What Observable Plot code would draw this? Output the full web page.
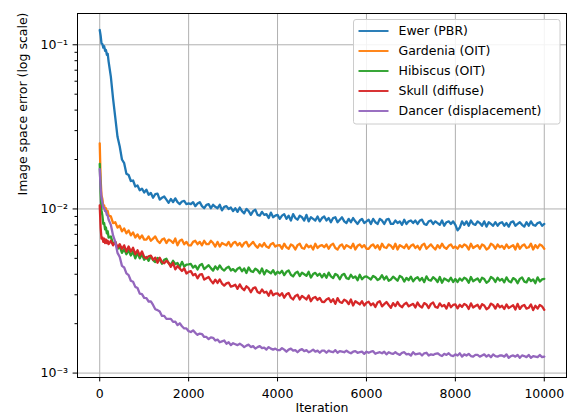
<!DOCTYPE html>
<html><head><meta charset="utf-8">
<script src="https://cdn.jsdelivr.net/npm/d3@7"></script>
<script src="https://cdn.jsdelivr.net/npm/@observablehq/plot@0.6"></script>
<style>body{margin:0;background:#fff} svg{display:block}</style>
</head><body><div id="chart"></div>
<script>
const seriesNames = ["Ewer (PBR)", "Gardenia (OIT)", "Hibiscus (OIT)", "Skull (diffuse)", "Dancer (displacement)"];
const seriesColors = ["#1f77b4", "#ff7f0e", "#2ca02c", "#d62728", "#9467bd"];
const xTicks = [0, 2000, 4000, 6000, 8000, 10000];
const yMajorTicks = [0.001, 0.01, 0.1];
const yMinorTicks = [0.002,0.003,0.004,0.005,0.006,0.007,0.008,0.009,0.02,0.03,0.04,0.05,0.06,0.07,0.08,0.09];
const yTickLabels = ["10\u207B\u00B3", "10\u207B\u00B2", "10\u207B\u00B9"];

const iterations = [0,20,40,60,80,100,120,140,160,180,200,250,300,350,400,450,500,550,600,650,700,750,800,850,900,950,1000,
1050,1100,1150,1200,1250,1300,1350,1400,1450,1500,1550,1600,1650,1700,1750,1800,1850,1900,1950,2000,
2050,2100,2150,2200,2250,2300,2350,2400,2450,2500,2550,2600,2650,2700,2750,2800,2850,2900,2950,3000,
3050,3100,3150,3200,3250,3300,3350,3400,3450,3500,3550,3600,3650,3700,3750,3800,3850,3900,3950,4000,
4050,4100,4150,4200,4250,4300,4350,4400,4450,4500,4550,4600,4650,4700,4750,4800,4850,4900,4950,5000,
5050,5100,5150,5200,5250,5300,5350,5400,5450,5500,5550,5600,5650,5700,5750,5800,5850,5900,5950,6000,
6050,6100,6150,6200,6250,6300,6350,6400,6450,6500,6550,6600,6650,6700,6750,6800,6850,6900,6950,7000,
7050,7100,7150,7200,7250,7300,7350,7400,7450,7500,7550,7600,7650,7700,7750,7800,7850,7900,7950,8000,
8050,8100,8150,8200,8250,8300,8350,8400,8450,8500,8550,8600,8650,8700,8750,8800,8850,8900,8950,9000,
9050,9100,9150,9200,9250,9300,9350,9400,9450,9500,9550,9600,9650,9700,9750,9800,9850,9900,9950,10000];

const ewer = [.123,.114,.102,.101,.096,.098,.092,.093,.087,.088,.079,.064,.047,.036,.0275,.0240,.0200,.0190,.0164,.0161,.0148,.0149,.0137,.0139,.0130,.0133,.0126,
.0131,.0122,.0125,.0117,.0123,.0124,.0114,.0117,.0119,.0114,.0109,.0115,.0110,.0116,.0110,.0107,.0111,.0112,.0107,.0108,
.0107,.0110,.0104,.0108,.0110,.0104,.0101,.0106,.0107,.0101,.0106,.0103,.0101,.0106,.0098,.0103,.0104,.0100,.0102,.0097,
.0101,.0096,.0102,.0097,.0094,.0100,.0097,.0092,.0097,.0099,.0092,.0091,.0096,.0092,.0093,.0088,.0095,.0089,.0091,.0092,
.0087,.0091,.0093,.0087,.0091,.0085,.0093,.0088,.0086,.0091,.0089,.0085,.0092,.0084,.0089,.0087,.0085,.0090,.0084,.0088,
.0090,.0085,.0088,.0083,.0088,.0089,.0083,.0086,.0089,.0084,.0082,.0087,.0083,.0088,.0084,.0081,.0085,.0087,.0082,.0084,
.0086,.0081,.0087,.0083,.0081,.0087,.0085,.0081,.0086,.0087,.0081,.0081,.0085,.0082,.0084,.0080,.0086,.0081,.0084,.0085,
.0082,.0085,.0081,.0085,.0086,.0081,.0080,.0084,.0085,.0081,.0084,.0082,.0080,.0085,.0079,.0083,.0084,.0081,.0084,.0080,
.0074,.0077,.0084,.0080,.0084,.0079,.0085,.0081,.0080,.0084,.0082,.0079,.0084,.0078,.0083,.0081,.0079,.0083,.0079,.0082,
.0083,.0079,.0082,.0078,.0083,.0084,.0079,.0081,.0083,.0080,.0078,.0083,.0079,.0084,.0080,.0079,.0082,.0083,.0079,.0081];

const gardenia = [.0251,.0152,.0121,.0115,.0104,.0105,.0098,.0101,.0095,.0097,.0091,.0090,.0082,.0083,.0077,.0079,.0073,.0076,.0071,.0074,.0069,.0072,.0067,.0070,.0066,.0069,.0065,
.0065,.0068,.0064,.0066,.0068,.0064,.0062,.0065,.0066,.0062,.0065,.0064,.0062,.0066,.0060,.0064,.0065,.0061,.0063,.0060,
.0060,.0063,.0064,.0061,.0063,.0060,.0064,.0061,.0061,.0064,.0062,.0059,.0063,.0059,.0062,.0061,.0060,.0063,.0059,.0062,
.0063,.0060,.0062,.0059,.0062,.0063,.0059,.0061,.0063,.0060,.0058,.0061,.0059,.0062,.0059,.0058,.0061,.0062,.0059,.0060,
.00602,.00572,.00614,.00584,.00572,.00608,.00596,.00566,.00602,.00614,.00578,.00572,.00608,.00584,.00596,.00566,.00614,.00578,.00596,.00602,
.00584,.00608,.00572,.00602,.00614,.00578,.00566,.00596,.00608,.00572,.00602,.0059,.00578,.00614,.00566,.00596,.00608,.00584,.00602,.00572,
.00572,.00596,.00608,.00578,.00602,.00566,.00614,.00584,.00578,.00608,.00596,.00572,.00614,.00566,.00602,.0059,.00578,.00608,.00572,.00596,
.00608,.00578,.00596,.00566,.00602,.00614,.00572,.0059,.00608,.00584,.00566,.00602,.00578,.00614,.00584,.00572,.00596,.00608,.00578,.0059,
.00572,.00602,.00584,.00608,.00596,.00566,.00614,.00578,.0059,.00602,.00572,.00608,.00596,.00566,.00578,.00614,.00602,.00572,.00608,.00584,
.00596,.00572,.00608,.00578,.0059,.00602,.00566,.00614,.00572,.00596,.00608,.00578,.00584,.00614,.00566,.00602,.00578,.00608,.00596,.00572];

const hibiscus = [.0188,.0126,.0098,.0091,.0081,.0082,.0075,.0077,.0071,.0073,.0067,.0068,.0061,.0063,.0057,.0059,.0054,.0057,.0053,.0056,.0052,.0055,.0050,.0054,.0050,.0053,.0049,
.00510,.00483,.00515,.00488,.00475,.00503,.00490,.00464,.00490,.00497,.00466,.00458,.00483,.00461,.00468,.00442,.00476,.00446,.00458,.00459,
.00462,.00439,.00451,.00428,.00454,.00462,.00430,.00442,.00454,.00436,.00421,.00447,.00428,.00453,.00431,.00421,.00437,.00445,.00422,.00430,
.00416,.00432,.00440,.00417,.00434,.00407,.00440,.00418,.00413,.00433,.00423,.00405,.00434,.00399,.00423,.00414,.00405,.00424,.00399,.00414,
.00405,.00420,.00395,.00414,.00422,.00397,.00388,.00407,.00414,.00390,.00409,.00400,.00391,.00414,.00382,.00401,.00408,.00392,.00403,.00383,
.00402,.00381,.00409,.00388,.00379,.00402,.00394,.00373,.00396,.00402,.00379,.00374,.00397,.00380,.00388,.00368,.00397,.00373,.00385,.00388,
.00380,.00372,.00391,.00384,.00369,.00376,.00395,.00372,.00388,.00365,.00372,.00387,.00376,.00365,.00391,.00384,.00361,.00380,.00368,.00387,
.00362,.00377,.00384,.00366,.00380,.00358,.00388,.00369,.00366,.00384,.00374,.00359,.00385,.00355,.00377,.00370,.00363,.00381,.00359,.00374,
.00359,.00377,.00366,.00381,.00374,.00355,.00385,.00363,.00370,.00377,.00359,.00381,.00374,.00355,.00363,.00385,.00377,.00359,.00381,.00366,
.00375,.00357,.00383,.00364,.00357,.00379,.00372,.00353,.00375,.00383,.00361,.00357,.00379,.00364,.00372,.00353,.00383,.00361,.00372,.00375];

const skull = [.0105,.0077,.0066,.0067,.0063,.0066,.0062,.0065,.0062,.0064,.0061,.0064,.0060,.0063,.0058,.0061,.0057,.0060,.0055,.0059,.0055,.0058,.0053,.0056,.0052,.0055,.0051,
.00500,.00515,.00520,.00490,.00505,.00470,.00504,.00475,.00466,.00484,.00469,.00444,.00470,.00428,.00449,.00434,.00419,.00435,.00404,.00414,
.00418,.00394,.00402,.00378,.00398,.00401,.00371,.00378,.00385,.00366,.00352,.00371,.00354,.00372,.00351,.00341,.00352,.00356,.00336,.00340,
.00345,.00326,.00347,.00329,.00320,.00338,.00329,.00311,.00328,.00333,.00312,.00307,.00323,.00309,.00313,.00296,.00318,.00298,.00305,.00306,
.00296,.00307,.00288,.00302,.00307,.00288,.00281,.00295,.00300,.00281,.00295,.00288,.00281,.00297,.00274,.00287,.00291,.00279,.00287,.00272,
.00271,.00281,.00286,.00271,.00282,.00264,.00286,.00271,.00268,.00280,.00275,.00263,.00281,.00258,.00274,.00268,.00262,.00274,.00258,.00268,
.00272,.00259,.00266,.00253,.00269,.00274,.00255,.00263,.00271,.00260,.00250,.00267,.00256,.00271,.00258,.00252,.00263,.00268,.00255,.00260,
.00264,.00251,.00269,.00256,.00251,.00267,.00262,.00249,.00264,.00269,.00253,.00250,.00266,.00255,.00260,.00247,.00267,.00252,.00260,.00262,
.00248,.00261,.00253,.00264,.00259,.00246,.00266,.00251,.00256,.00261,.00247,.00263,.00258,.00245,.00250,.00265,.00260,.00247,.00263,.00252,
.00257,.00246,.00262,.00249,.00254,.00259,.00244,.00264,.00246,.00256,.00260,.00247,.00250,.00262,.00242,.00257,.00247,.00260,.00255,.00243];

const dancer = [.0175,.0134,.0117,.0109,.0102,.0101,.0097,.0097,.0092,.0091,.0086,.0080,.0069,.0063,.0054,.0051,.0045,.0044,.00405,.00395,.00365,.0036,.00335,.0033,.00305,.00303,.00287,
.00286,.00273,.00273,.00260,.00245,.00242,.00237,.00223,.00223,.00214,.00214,.00214,.00205,.00206,.00196,.00201,.00193,.00187,.00187,.00180,
.00178,.00182,.00176,.00171,.00174,.00173,.00166,.00166,.00161,.00165,.00164,.00158,.00160,.00154,.00156,.00158,.00151,.00154,.00148,.00152,
.00150,.00148,.00151,.00148,.00144,.00147,.00149,.00144,.00146,.00141,.00144,.00146,.00142,.00143,.00139,.00144,.00141,.00139,.00141,.00138,
.00138,.00142,.00139,.00135,.00139,.00141,.00137,.00138,.00134,.00138,.00140,.00136,.00138,.00134,.00136,.00139,.00135,.00137,.00133,.00137,
.00137,.00133,.00137,.00135,.00134,.00138,.00133,.00136,.00135,.00134,.00137,.00134,.00132,.00135,.00136,.00133,.00134,.00135,.00131,.00135,
.00133,.00135,.00136,.00131,.00133,.00134,.00132,.00135,.00130,.00134,.00132,.00131,.00134,.00131,.00129,.00133,.00134,.00130,.00131,.00128,
.00134,.00130,.00131,.00132,.00128,.00132,.00133,.00128,.00130,.00129,.00131,.00132,.00129,.00127,.00131,.00129,.00132,.00128,.00127,.00130,
.00128,.00132,.00126,.00130,.00128,.00131,.00127,.00126,.00129,.00129,.00126,.00128,.00130,.00126,.00129,.00125,.00130,.00127,.00126,.00128,
.00128,.00126,.00130,.00124,.00127,.00128,.00126,.00129,.00124,.00128,.00127,.00125,.00129,.00124,.00127,.00126,.00125,.00129,.00125,.00126];

const seriesValues = [ewer, gardenia, hibiscus, skull, dancer];
seriesValues.forEach((v, k) => { if (v.length !== iterations.length) throw new Error(seriesNames[k] + " has " + v.length + " values, expected " + iterations.length); });
const table = seriesNames.flatMap((name, k) =>
  iterations.map((it, i) => ({series: name, iteration: it, error: seriesValues[k][i]})));

const FONT = "DejaVu Sans";
const chart = Plot.plot({
  width: 574, height: 417,
  marginLeft: 77, marginRight: 8, marginTop: 13, marginBottom: 40,
  style: {fontFamily: FONT, fontSize: "12.5px", color: "black", background: "white", overflow: "visible"},
  x: {domain: [-500, 10500], axis: null},
  y: {type: "log", domain: [0.00094, 0.1551], axis: null},
  color: {domain: seriesNames, range: seriesColors},
  marks: [
    Plot.gridX(xTicks, {stroke: "#b0b0b0", strokeOpacity: 1, strokeWidth: 1}),
    Plot.gridY(yMajorTicks, {stroke: "#b0b0b0", strokeOpacity: 1, strokeWidth: 1}),
    Plot.lineY(table, {x: "iteration", y: "error", stroke: "series", strokeWidth: 2.3, strokeLinejoin: "round"}),
    Plot.frame({stroke: "black", strokeWidth: 1}),
    Plot.axisX(xTicks, {tickSize: 4.4, tickPadding: 7, tickFormat: d => String(d), label: null, fontSize: 12.5}),
    Plot.axisY(yMajorTicks, {tickSize: 4.4, tickPadding: 5, tickFormat: d => yTickLabels[yMajorTicks.indexOf(d)], label: null, fontSize: 12.5}),
    Plot.axisY(yMinorTicks, {tickSize: 2.5, tickFormat: () => "", label: null}),
    Plot.text(["Iteration"], {frameAnchor: "bottom", dy: 34, text: d => d, fontSize: 12.5, fill: "black"}),
    Plot.text(["Image space error (log scale)"], {frameAnchor: "left", dx: -55, rotate: -90, text: d => d, fontSize: 12.5, fill: "black"})
  ]
});

// legend (upper right, matplotlib style)
const NS = "http://www.w3.org/2000/svg";
function el(tag, attrs, parent) {
  const e = document.createElementNS(NS, tag);
  for (const k in attrs) e.setAttribute(k, attrs[k]);
  parent.appendChild(e);
  return e;
}
const lg = el("g", {"font-family": FONT, "font-size": "12.5", "text-anchor": "start"}, chart);
el("rect", {x: 353.5, y: 19.5, width: 206.5, height: 104.5, rx: 2.5, ry: 2.5,
  fill: "#ffffff", "fill-opacity": 0.85, stroke: "#cccccc", "stroke-width": 1}, lg);
seriesNames.forEach((name, k) => {
  const y = 31 + 20 * k;
  el("line", {x1: 358.5, x2: 388.5, y1: y, y2: y, stroke: seriesColors[k], "stroke-width": 1.875}, lg);
  const t = el("text", {x: 398.5, y: y, dy: "0.35em", fill: "black", "text-anchor": "start"}, lg);
  t.textContent = name;
});

document.getElementById("chart").appendChild(chart);
</script>
</body></html>
